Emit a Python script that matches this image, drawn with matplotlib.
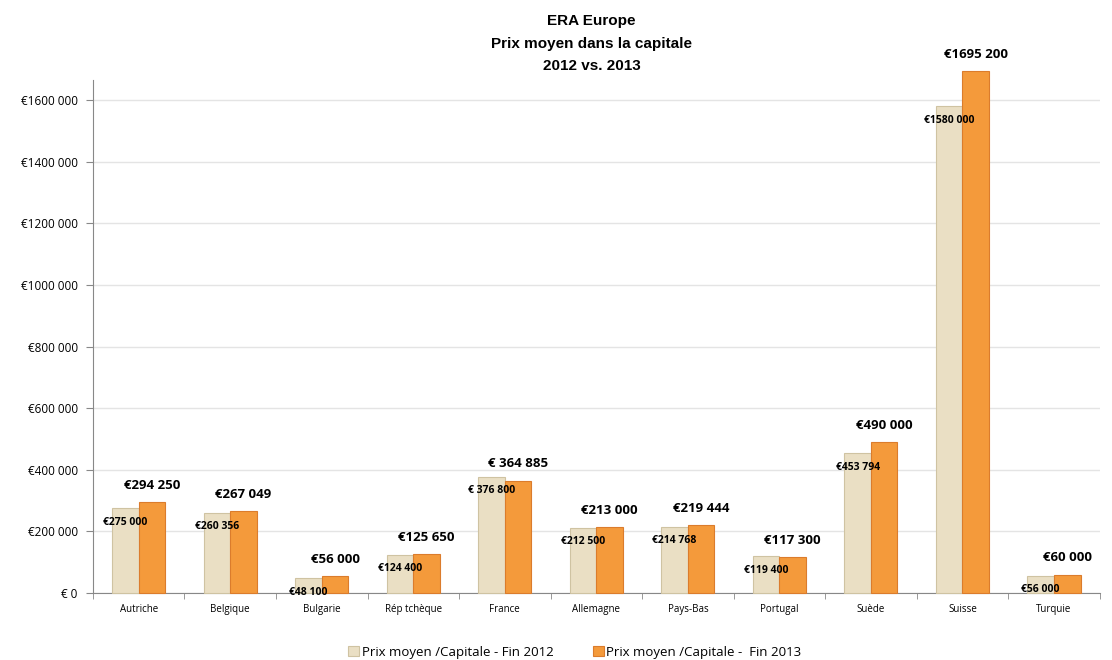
import matplotlib

matplotlib.use("Agg")
import matplotlib.pyplot as plt
import numpy as np

countries = ["Autriche", "Belgique", "Bulgarie", "Rép tchèque", "France", "Allemagne",
             "Pays-Bas", "Portugal", "Suède", "Suisse", "Turquie"]
prix_2012 = [275000, 260356, 48100, 124400, 376800, 212500, 214768, 119400, 453794, 1580000, 56000]
prix_2013 = [294250, 267049, 56000, 125650, 364885, 213000, 219444, 117300, 490000, 1695200, 60000]
labels_2012 = ["€275 000", "€260 356", "€48 100", "€124 400", "€ 376 800", "€212 500",
               "€214 768", "€119 400", "€453 794", "€1580 000", "€56 000"]
labels_2013 = ["€294 250", "€267 049", "€56 000", "€125 650", "€ 364 885", "€213 000",
               "€219 444", "€117 300", "€490 000", "€1695 200", "€60 000"]
yticks = [0, 200000, 400000, 600000, 800000, 1000000, 1200000, 1400000, 1600000]
ytick_labels = ["€ 0", "€200 000", "€400 000", "€600 000", "€800 000", "€1000 000",
                "€1200 000", "€1400 000", "€1600 000"]

plt.rcParams["font.family"] = ["Open Sans", "DejaVu Sans"]

fig = plt.figure(figsize=(11.12, 6.6), dpi=100)
ax = fig.add_axes([0.0836, 0.1015, 0.9054, 0.7773])

x = np.arange(len(countries))
w = 0.29
b12 = ax.bar(x - w / 2, prix_2012, w, color="#EADFC4", edgecolor="#CFC3A2",
             linewidth=0.8, clip_on=False, zorder=3, label="Prix moyen /Capitale - Fin 2012")
b13 = ax.bar(x + w / 2, prix_2013, w, color="#F49A3B", edgecolor="#DB7C2C",
             linewidth=0.8, clip_on=False, zorder=3, label="Prix moyen /Capitale -  Fin 2013")

# 2012 values sit just under the bar top, 2013 values float above
for xi, v, s in zip(x, prix_2012, labels_2012):
    ax.annotate(s, (xi - w / 2, v), xytext=(0, -10), textcoords="offset points",
                ha="center", va="center", fontsize=7.5, fontweight="bold", zorder=5,
                annotation_clip=False)
for xi, v, s in zip(x, prix_2013, labels_2013):
    ax.annotate(s, (xi + w / 2, v), xytext=(0, 12), textcoords="offset points",
                ha="center", va="center", fontsize=9.5, fontweight="bold", zorder=5,
                annotation_clip=False)

ax.set_xlim(-0.5, len(countries) - 0.5)
ax.set_ylim(0, 1665000)
ax.set_yticks(yticks)
ax.set_yticklabels(ytick_labels, fontsize=8.5)
ax.set_xticks(x)
ax.set_xticklabels(countries, fontsize=7)
ax.set_xticks(np.arange(len(countries) + 1) - 0.5, minor=True)
ax.tick_params(axis="x", which="major", length=0, pad=8)
ax.tick_params(axis="x", which="minor", length=4, color="#888888")
ax.tick_params(axis="y", length=5, color="#888888", pad=6)
ax.grid(axis="y", color="#E4E4E4", linewidth=1.0, zorder=0)
for side in ("top", "right"):
    ax.spines[side].set_visible(False)
for side in ("left", "bottom"):
    ax.spines[side].set_color("#888888")

fig.text(0.532, 0.934, "ERA Europe\nPrix moyen dans la capitale\n2012 vs. 2013",
         ha="center", va="center", fontsize=11, fontweight="bold",
         family="Liberation Sans", linespacing=1.8)

fig.legend(handles=[b12, b13], loc="center", bbox_to_anchor=(0.517, 0.012), ncol=2,
           frameon=False, fontsize=9.5, handlelength=0.8, handleheight=0.8,
           handletextpad=0.2, columnspacing=3.0)

fig.savefig("out.png", dpi=100)
